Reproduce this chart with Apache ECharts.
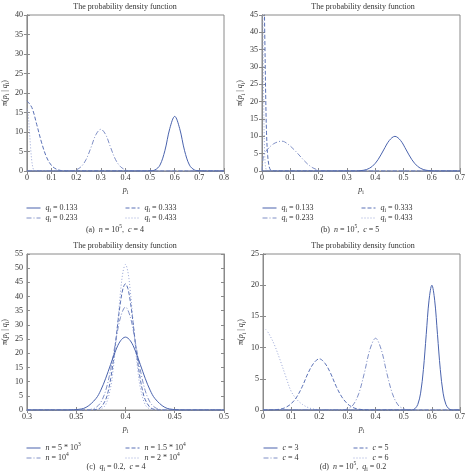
<!DOCTYPE html>
<html>
<head>
<meta charset="utf-8">
<title>The probability density function</title>
<script src="https://cdn.jsdelivr.net/npm/echarts@6/dist/echarts.min.js"></script>
</head>
<body style="margin:0;background:#fff;">
<div id="main" style="width:468px;height:475px;"></div>
<script>
// (a) n = 10^5, c = 4  -- [p_i, density]
var aSolid = [[0,0],[0.48,0],[0.5,0.05],[0.52,0.27],[0.54,1.5],[0.56,5.2],[0.58,10.9],[0.6,14],[0.62,10.9],[0.64,5.2],[0.66,1.5],[0.68,0.27],[0.7,0.05],[0.72,0],[0.8,0]];
var aDashDot = [[0,0],[0.18,0],[0.2,0.3],[0.22,1.1],[0.24,2.9],[0.26,6.0],[0.28,9.3],[0.3,10.7],[0.32,9.3],[0.34,6.0],[0.36,2.9],[0.38,1.1],[0.4,0.3],[0.42,0],[0.8,0]];
var aDashed = [[0,18],[0.02,16.3],[0.04,11.9],[0.06,7.2],[0.08,3.5],[0.1,1.4],[0.12,0.46],[0.14,0.1],[0.16,0],[0.8,0]];
var aDotted = [[0,16],[0.005,14.5],[0.01,10.5],[0.015,6],[0.02,2.5],[0.025,0.7],[0.03,0.1],[0.035,0],[0.8,0]];

// (b) n = 10^5, c = 5
var bSolid = [[0,0],[0.33,0],[0.35,0.11],[0.37,0.44],[0.39,1.35],[0.41,3.25],[0.43,6.07],[0.45,8.8],[0.47,10],[0.49,8.8],[0.51,6.07],[0.53,3.25],[0.55,1.35],[0.57,0.44],[0.59,0.11],[0.61,0],[0.7,0]];
var bDashDot = [[0,0],[0.005,4.2],[0.01,5.2],[0.02,6.3],[0.04,7.8],[0.06,8.5],[0.07,8.6],[0.08,8.4],[0.1,7.2],[0.12,5.6],[0.14,3.8],[0.16,2.1],[0.18,0.9],[0.2,0.25],[0.22,0],[0.7,0]];
var bDashed = [[0,60],[0.006,55],[0.01,38],[0.013,22],[0.016,11],[0.02,4.5],[0.025,1.4],[0.03,0.3],[0.036,0],[0.7,0]];
var bDotted = [[0,70],[0.003,45],[0.006,20],[0.009,6],[0.012,1.5],[0.016,0.2],[0.02,0],[0.7,0]];

// (c) q_i = 0.2, c = 4
var cSolid = [[0.3,0],[0.34,0],[0.35,0.14],[0.36,0.92],[0.37,4.0],[0.375,7.0],[0.38,11.2],[0.385,16.1],[0.39,20.9],[0.395,24.4],[0.4,25.7],[0.405,24.4],[0.41,20.9],[0.415,16.1],[0.42,11.2],[0.425,7.0],[0.43,4.0],[0.44,0.92],[0.45,0.14],[0.46,0],[0.5,0]];
var cDashDot = [[0.3,0],[0.36,0],[0.365,0.23],[0.37,0.88],[0.375,2.7],[0.38,6.9],[0.385,14.3],[0.39,24],[0.395,32.7],[0.4,36.3],[0.405,32.7],[0.41,24],[0.415,14.3],[0.42,6.9],[0.425,2.7],[0.43,0.88],[0.435,0.23],[0.44,0],[0.5,0]];
var cDashed = [[0.3,0],[0.365,0],[0.37,0.17],[0.375,0.91],[0.38,3.7],[0.3825,6.6],[0.385,11],[0.3875,16.8],[0.39,23.9],[0.3925,31.4],[0.395,38.1],[0.3975,42.8],[0.4,44.5],[0.4025,42.8],[0.405,38.1],[0.4075,31.4],[0.41,23.9],[0.4125,16.8],[0.415,11],[0.4175,6.6],[0.42,3.7],[0.425,0.91],[0.43,0.17],[0.435,0],[0.5,0]];
var cDotted = [[0.3,0],[0.37,0],[0.375,0.29],[0.38,1.9],[0.385,8.0],[0.3875,14.1],[0.39,22.5],[0.3925,32.2],[0.395,41.7],[0.3975,48.7],[0.4,51.3],[0.4025,48.7],[0.405,41.7],[0.4075,32.2],[0.41,22.5],[0.4125,14.1],[0.415,8.0],[0.42,1.9],[0.425,0.29],[0.43,0],[0.5,0]];

// (d) n = 10^5, q_i = 0.2
var dSolid = [[0,0],[0.53,0],[0.54,0.22],[0.55,0.88],[0.56,2.7],[0.57,6.5],[0.58,12.1],[0.59,17.6],[0.6,20],[0.61,17.6],[0.62,12.1],[0.63,6.5],[0.64,2.7],[0.65,0.88],[0.66,0.22],[0.67,0],[0.7,0]];
var dDashDot = [[0,0],[0.28,0],[0.3,0.18],[0.32,0.8],[0.34,2.6],[0.36,5.9],[0.38,9.7],[0.4,11.5],[0.42,9.7],[0.44,5.9],[0.46,2.6],[0.48,0.8],[0.5,0.18],[0.52,0],[0.7,0]];
var dDashed = [[0,0],[0.02,0],[0.04,0.04],[0.06,0.13],[0.08,0.4],[0.1,1.0],[0.12,2.1],[0.14,3.8],[0.16,5.9],[0.18,7.5],[0.2,8.2],[0.22,7.5],[0.24,5.9],[0.26,3.8],[0.28,2.1],[0.3,1.0],[0.32,0.4],[0.34,0.13],[0.36,0.04],[0.38,0],[0.7,0]];
var dDotted = [[0.01,12.9],[0.02,12.3],[0.04,10.5],[0.06,8.1],[0.08,5.5],[0.1,3.0],[0.12,1.7],[0.14,0.9],[0.16,0.4],[0.18,0.15],[0.2,0.05],[0.22,0],[0.7,0]];

// axis ranges: [min, max, interval]
var aXTicks = [0, 0.8, 0.1], aYTicks = [0, 40, 5];
var bXTicks = [0, 0.7, 0.1], bYTicks = [0, 45, 5];
var cXTicks = [0.3, 0.5, 0.05], cYTicks = [0, 55, 5];
var dXTicks = [0, 0.7, 0.1], dYTicks = [0, 25, 5];

// legend texts (order: solid, dash-dot, dashed, dotted)
var aLabels = ['{it|q}{sub|i} = 0.133', '{it|q}{sub|i} = 0.233', '{it|q}{sub|i} = 0.333', '{it|q}{sub|i} = 0.433'];
var bLabels = aLabels;
var cLabels = ['{it|n} = 5 * 10{sup|3}', '{it|n} = 10{sup|4}', '{it|n} = 1.5 * 10{sup|4}', '{it|n} = 2 * 10{sup|4}'];
var dLabels = ['{it|c} = 3', '{it|c} = 4', '{it|c} = 5', '{it|c} = 6'];

var captions = [
  '(a)  {it|n} = 10{sup|5},  {it|c} = 4',
  '(b)  {it|n} = 10{sup|5},  {it|c} = 5',
  '(c)  {it|q}{sub|i} = 0.2,  {it|c} = 4',
  '(d)  {it|n} = 10{sup|5},  {it|q}{sub|i} = 0.2'
];
var chartTitle = 'The probability density function';

var FONT = 'Liberation Serif';
var TXT = '#333';
var AX = '#8a8a8a';
var rich = {
  it: { fontStyle: 'italic', fontFamily: FONT, fontSize: 8, color: TXT, lineHeight: 12 },
  sub: { fontFamily: FONT, fontSize: 5.5, color: TXT, lineHeight: 7, verticalAlign: 'bottom' },
  sup: { fontFamily: FONT, fontSize: 5.5, color: TXT, lineHeight: 7, verticalAlign: 'top' }
};

var styles = [
  { type: 'solid', color: '#4a63ad' },
  { type: [5, 2, 1, 2], color: '#8090c6' },
  { type: [4, 2], color: '#5a71b6' },
  { type: [1, 2], color: '#98a5d6' }
];

var panels = [
  { data: [aSolid, aDashDot, aDashed, aDotted], xt: aXTicks, yt: aYTicks, labels: aLabels },
  { data: [bSolid, bDashDot, bDashed, bDotted], xt: bXTicks, yt: bYTicks, labels: bLabels },
  { data: [cSolid, cDashDot, cDashed, cDotted], xt: cXTicks, yt: cYTicks, labels: cLabels },
  { data: [dSolid, dDashDot, dDashed, dDotted], xt: dXTicks, yt: dYTicks, labels: dLabels }
];

var layout = [
  { grid: [26, 15, 198, 156], title: [125, 7], cols: [26, 125], rows: [207, 217], cap: [115, 230] },
  { grid: [262, 15, 200, 156], title: [363, 7], cols: [262, 361], rows: [207, 217], cap: [350, 230] },
  { grid: [26, 254, 198, 156], title: [125, 246], cols: [26, 125], rows: [447, 457], cap: [116, 467] },
  { grid: [263, 254, 199, 156], title: [363, 246], cols: [263, 353], rows: [447, 457], cap: [353, 467] }
];

var grids = [], xAxes = [], yAxes = [], series = [], legends = [], graphics = [];
var legendText = {};

panels.forEach(function (p, k) {
  var L = layout[k];
  grids.push({ left: L.grid[0], top: L.grid[1], width: L.grid[2], height: L.grid[3],
    show: true, borderColor: AX, borderWidth: 1 });

  var labelStyle = { fontFamily: FONT, fontSize: 8, color: TXT };
  // bottom / left axes with labels
  xAxes.push({ type: 'value', gridIndex: k, min: p.xt[0], max: p.xt[1], interval: p.xt[2],
    axisLine: { show: true, lineStyle: { color: AX } },
    axisTick: { inside: true, length: 3, lineStyle: { color: AX } },
    axisLabel: Object.assign({ margin: 3 }, labelStyle),
    splitLine: { show: false },
    name: '{it|p}{sub|i}', nameLocation: 'middle', nameGap: 13,
    nameTextStyle: { rich: rich, fontSize: 8 } });
  yAxes.push({ type: 'value', gridIndex: k, min: p.yt[0], max: p.yt[1], interval: p.yt[2],
    axisLine: { show: true, lineStyle: { color: AX } },
    axisTick: { inside: true, length: 3, lineStyle: { color: AX } },
    axisLabel: Object.assign({ margin: 4 }, labelStyle),
    splitLine: { show: false },
    name: '{n|π(}{it|p}{sub|i}{n| | }{it|q}{sub|i}{n|)}', nameLocation: 'middle', nameGap: 11,
    nameTextStyle: { rich: Object.assign({ n: { fontFamily: FONT, fontSize: 8, color: TXT, lineHeight: 12 } }, rich) } });
  // mirrored top / right ticks
  xAxes.push({ type: 'value', gridIndex: k, position: 'top', min: p.xt[0], max: p.xt[1], interval: p.xt[2],
    axisLine: { show: true, lineStyle: { color: AX } },
    axisTick: { inside: true, length: 3, lineStyle: { color: AX } },
    axisLabel: { show: false }, splitLine: { show: false } });
  yAxes.push({ type: 'value', gridIndex: k, position: 'right', min: p.yt[0], max: p.yt[1], interval: p.yt[2],
    axisLine: { show: true, lineStyle: { color: AX } },
    axisTick: { inside: true, length: 3, lineStyle: { color: AX } },
    axisLabel: { show: false }, splitLine: { show: false } });

  // draw dotted first so the solid line sits on top
  [3, 2, 1, 0].forEach(function (i) {
    var name = 'p' + k + 's' + i;
    legendText[name] = p.labels[i];
    series.push({ name: name, type: 'line', xAxisIndex: 2 * k, yAxisIndex: 2 * k,
      data: p.data[i], showSymbol: false, symbol: 'none', smooth: 0.35, clip: true,
      lineStyle: { width: 1, type: styles[i].type, color: styles[i].color },
      itemStyle: { color: styles[i].color } });
  });

  [0, 1, 2, 3].forEach(function (i) {
    var col = i < 2 ? 0 : 1, row = i % 2;
    legends.push({ data: ['p' + k + 's' + i], left: L.cols[col], top: L.rows[row] - 5,
      padding: 0, itemWidth: 14, itemHeight: 8, selectedMode: false,
      itemStyle: { color: 'transparent', borderWidth: 0, opacity: 0 },
      lineStyle: { width: 1 },
      formatter: function (n) { return legendText[n]; },
      textStyle: { fontFamily: FONT, fontSize: 8, color: TXT, lineHeight: 12, rich: rich } });
  });

  graphics.push({ type: 'text', x: L.title[0], y: L.title[1],
    style: { text: chartTitle, fontFamily: FONT, fontSize: 8, fill: TXT,
      align: 'center', verticalAlign: 'middle' } });
  graphics.push({ type: 'text', x: L.cap[0], y: L.cap[1],
    style: { text: captions[k], fontFamily: FONT, fontSize: 8, fill: TXT, lineHeight: 12,
      rich: rich, align: 'center', verticalAlign: 'middle' } });
});

var myChart = echarts.init(document.getElementById('main'));
myChart.setOption({
  animation: false,
  backgroundColor: '#fff',
  grid: grids,
  xAxis: xAxes,
  yAxis: yAxes,
  legend: legends,
  graphic: graphics,
  series: series
});
</script>
</body>
</html>
